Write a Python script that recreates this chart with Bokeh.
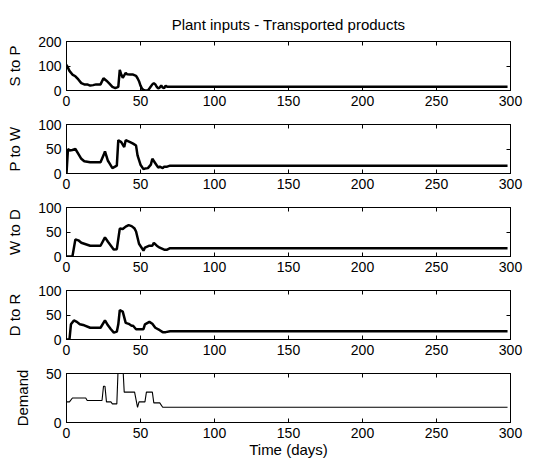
from bokeh.plotting import figure
from bokeh.models import Range1d, FixedTicker, LinearAxis
from bokeh.layouts import column
from bokeh.embed import file_html
from bokeh.resources import INLINE

TITLE = "Plant inputs - Transported products"
X_LABEL = "Time (days)"
X_TICKS = [0, 50, 100, 150, 200, 250, 300]

sp_days = [0, 2, 4, 6, 8, 10, 12, 14, 16, 18, 20, 23, 25, 27, 29, 31, 33, 35, 36, 37, 38, 39, 40, 41, 43, 45,
           47, 48, 49, 50, 51, 52, 53, 55, 56, 58, 59, 60, 61, 62, 63, 64, 65, 66, 67, 68, 298]
sp_vals = [105, 80, 65, 58, 45, 30, 25, 25, 20, 22, 25, 25, 50, 40, 28, 15, 10, 15, 84, 65, 52, 62, 72, 66, 65, 65,
           60, 50, 38, 20, 8, 2, 0, 0, 8, 25, 30, 25, 15, 8, 12, 20, 12, 10, 20, 15, 15]

pw_days = [0, 1, 2, 4, 6, 8, 10, 12, 16, 23, 25, 26, 28, 29, 31, 34, 35, 37, 39, 40, 43, 45, 47, 48, 50, 52, 53,
           55, 57, 58, 60, 62, 63, 65, 66, 68, 70, 298]
pw_vals = [0, 50, 47, 48, 50, 40, 30, 25, 23, 23, 37, 45, 26, 21, 11, 16, 68, 64, 54, 68, 64, 61, 57, 37, 18, 9, 10,
           11, 18, 30, 21, 12, 14, 11, 14, 14, 16, 16]

wd_days = [0, 4, 6, 8, 10, 13, 16, 23, 26, 28, 30, 32, 34, 36, 38, 40, 42, 44, 46, 47, 49, 52, 53, 56, 58, 59, 61,
           63, 66, 68, 70, 298]
wd_vals = [0, 0, 35, 33, 28, 25, 22, 22, 39, 30, 22, 14, 15, 57, 56, 61, 64, 62, 57, 51, 26, 12, 18, 22, 22, 28, 22,
           18, 14, 14, 17, 17]

dr_days = [0, 2, 3, 5, 7, 9, 12, 16, 23, 26, 28, 30, 32, 34, 35, 36, 38, 40, 42, 44, 45, 47, 52, 53, 56, 58, 60,
           63, 65, 67, 70, 298]
dr_vals = [0, 0, 31, 39, 36, 31, 29, 24, 24, 39, 29, 21, 14, 16, 31, 60, 57, 34, 32, 28, 28, 21, 21, 31, 36, 32, 24,
           19, 15, 15, 17, 17]

dm_days = [0, 2, 4, 13, 14, 24, 25, 26, 27, 30, 31, 34, 35, 38, 39, 46, 48, 49, 53, 54, 58, 59, 63, 65, 298]
dm_vals = [21, 21, 25, 25, 22.5, 22.5, 37, 37, 21, 21, 19, 19, 60, 60, 31, 31, 15.5, 21, 21, 31, 31, 20, 20, 15.5,
           15.5]

panels = [
    ("S to P", sp_days, sp_vals, 200, [0, 100, 200], 2.5),
    ("P to W", pw_days, pw_vals, 100, [0, 50, 100], 2.5),
    ("W to D", wd_days, wd_vals, 100, [0, 50, 100], 2.5),
    ("D to R", dr_days, dr_vals, 100, [0, 50, 100], 2.5),
    ("Demand", dm_days, dm_vals, 50, [0, 50], 1.1),
]

FONT = "Liberation Sans"
FS = "15px"
TICK_FS = "14px"

figs = []
n = len(panels)
for i, (label, xs, ys, ymax, yticks, lw) in enumerate(panels):
    first = i == 0
    last = i == n - 1
    p = figure(frame_width=444, frame_height=49,
               x_range=Range1d(0, 300), y_range=Range1d(0, ymax),
               output_backend="svg", toolbar_location=None,
               min_border_left=66, min_border_right=18,
               min_border_top=41 if first else 8,
               min_border_bottom=38 if last else 26,
               background_fill_color="white", border_fill_color="white")
    p.outline_line_color = "black"
    p.outline_line_width = 1
    p.grid.visible = False
    p.line(xs, ys, line_color="black", line_width=lw)

    for ax in p.xaxis:
        ax.ticker = FixedTicker(ticks=X_TICKS)
    for ax in p.yaxis:
        ax.ticker = FixedTicker(ticks=yticks)
    p.yaxis.axis_label = label
    p.yaxis.axis_label_standoff = 12
    if last:
        p.xaxis.axis_label = X_LABEL
        p.xaxis.axis_label_standoff = 0

    extra_r = LinearAxis(ticker=FixedTicker(ticks=yticks),
                         major_label_text_font_size="1px", major_label_text_color=None)
    extra_t = LinearAxis(ticker=FixedTicker(ticks=X_TICKS),
                         major_label_text_font_size="1px", major_label_text_color=None)
    p.add_layout(extra_r, "right")
    p.add_layout(extra_t, "above")

    for ax in p.axis:
        ax.axis_line_color = "black"
        ax.major_tick_line_color = "black"
        ax.major_tick_in = 4
        ax.major_tick_out = 0
        ax.minor_tick_line_color = None
        ax.major_label_text_font = FONT
        ax.axis_label_text_font = FONT
        ax.axis_label_text_font_style = "normal"
        ax.axis_label_text_font_size = FS
        ax.axis_label_text_color = "black"
        ax.major_label_standoff = 0
    p.below[0].major_label_text_font_size = TICK_FS
    p.below[0].major_label_text_color = "black"
    p.below[0].major_label_standoff = 5
    p.left[0].major_label_text_font_size = TICK_FS
    p.left[0].major_label_text_color = "black"
    p.left[0].major_label_standoff = 5

    if first:
        p.title.text = TITLE
        p.title.align = "center"
        p.title.text_font = FONT
        p.title.text_font_size = FS
        p.title.text_font_style = "normal"
        p.title.text_color = "black"
        p.title.standoff = 18
    figs.append(p)

layout = column(*figs, spacing=0)
open("out.html", "w").write(file_html(layout, INLINE))
